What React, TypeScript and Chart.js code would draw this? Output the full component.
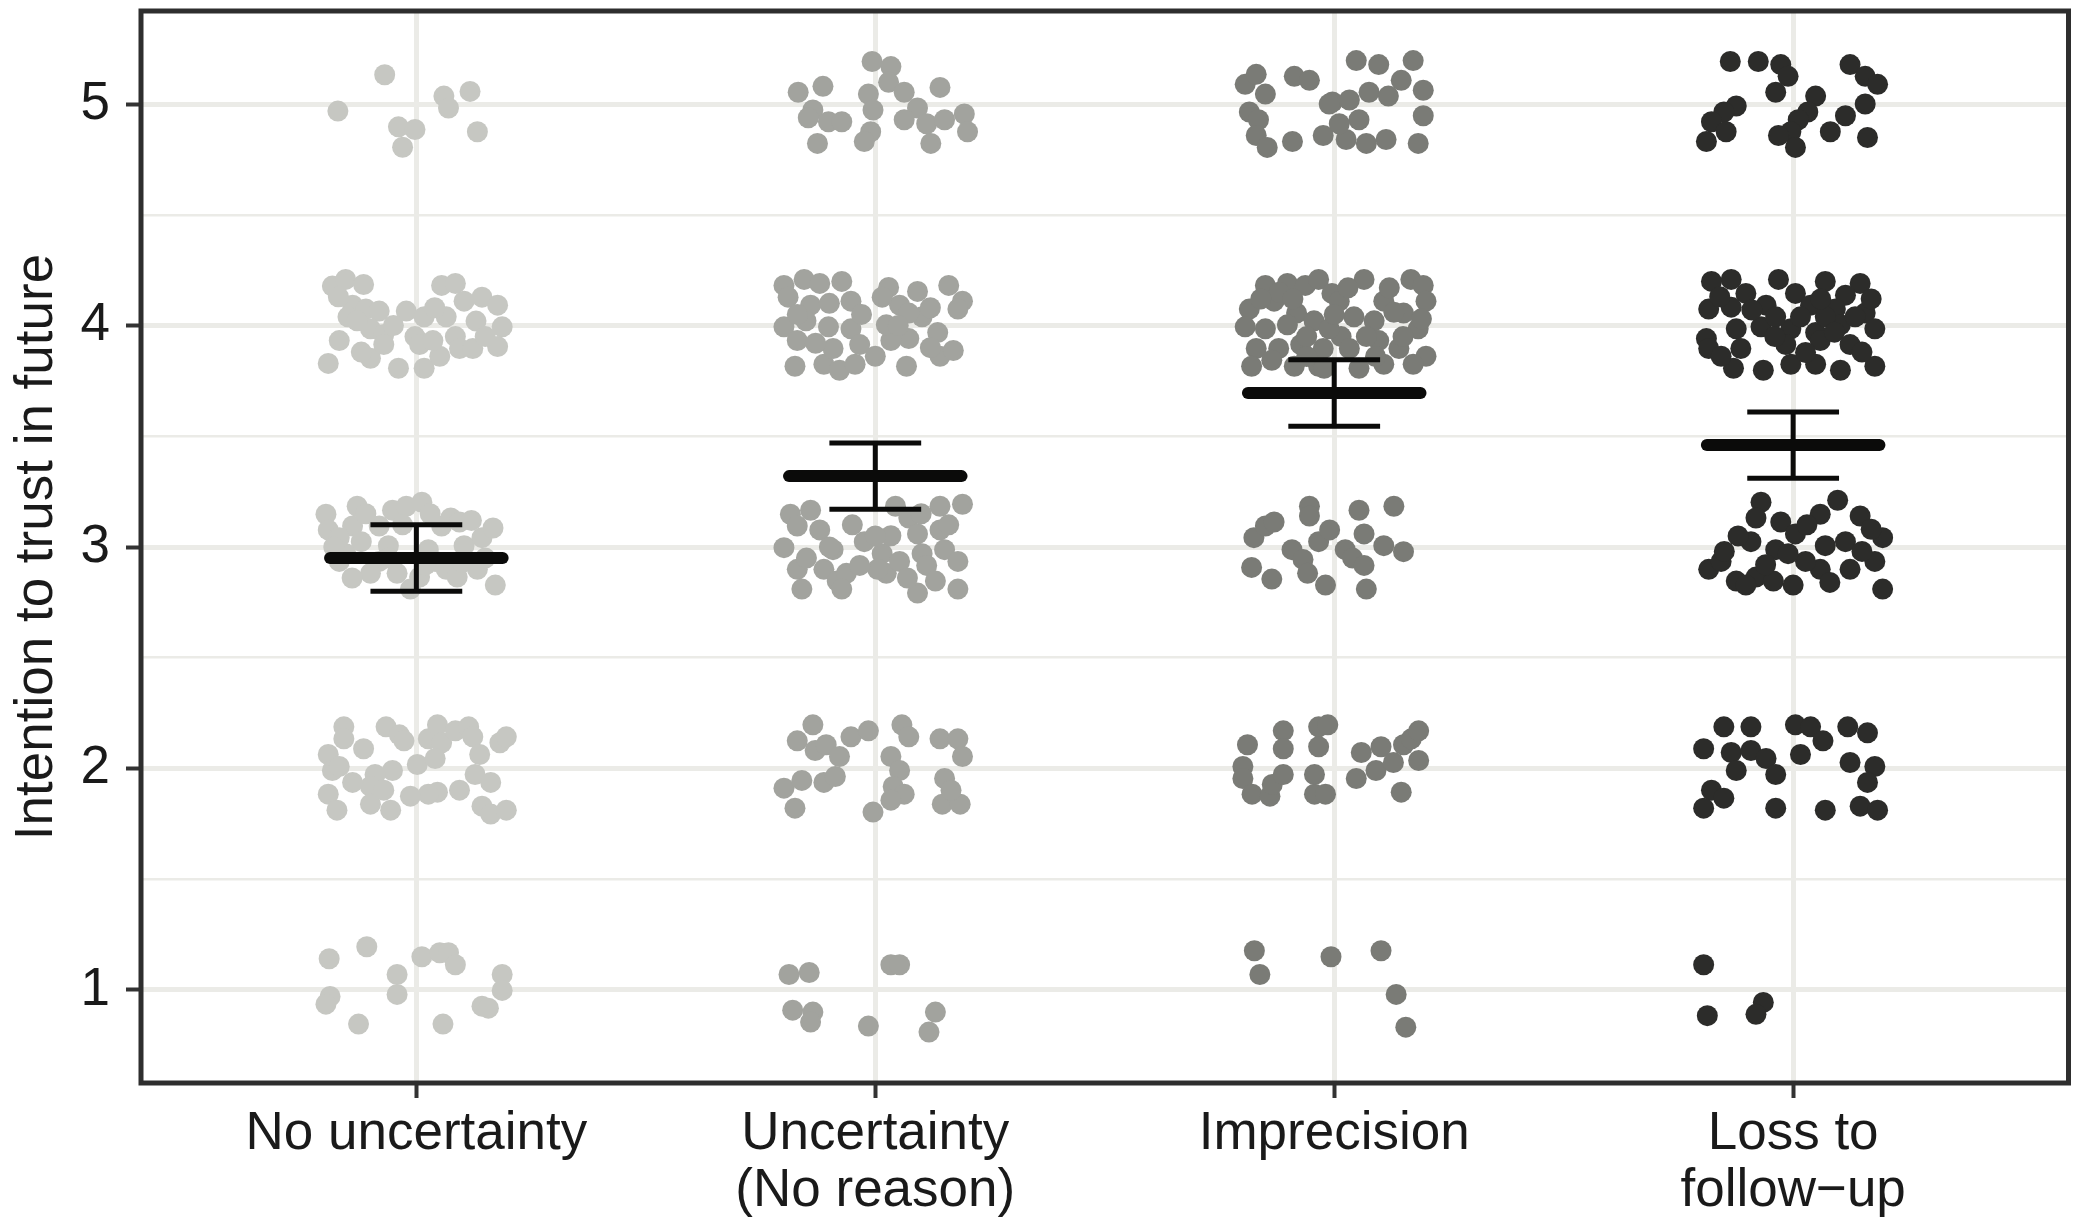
import React, { useEffect, useRef } from "react";
import { Chart, registerables } from "chart.js";

Chart.register(...registerables);

// ---- Data -------------------------------------------------------------
const categories: string[][] = [
  ["No uncertainty"],
  ["Uncertainty", "(No reason)"],
  ["Imprecision"],
  ["Loss to", "follow\u2212up"],
];

const yTickValues = [1, 1.5, 2, 2.5, 3, 3.5, 4, 4.5, 5];

const means = [2.95, 3.32, 3.695, 3.46];
const lowerCI = [2.8, 3.17, 3.545, 3.31];
const upperCI = [3.1, 3.47, 3.845, 3.61];

const pointColors = ["#c6c7c2", "#a2a39e", "#7a7b76", "#2c2c2a"];

// jittered responses: [horizontal jitter offset, jittered response]
const noUncertaintyPts: [number, number][] = [
  [-0.171, 4.968], [-0.069, 5.132], [-0.039, 4.897], [-0.003, 4.885], [-0.03, 4.805], [0.06, 5.036], [0.07, 4.982], [0.117, 5.057], [0.133, 4.875],
  [-0.183, 4.178], [-0.154, 4.208], [-0.115, 4.185], [-0.192, 3.829], [-0.168, 3.932], [-0.139, 4.092], [-0.149, 4.039], [-0.11, 4.074], [-0.081, 4.065], [-0.1, 3.985], [-0.071, 3.959], [-0.1, 3.852], [-0.039, 3.807], [-0.022, 4.065], [0.017, 4.039], [-0.003, 3.95], [0.017, 3.807], [0.051, 3.861], [0.055, 4.181], [0.085, 4.19], [0.065, 4.039], [0.085, 3.95], [0.094, 3.896], [0.123, 3.896], [0.143, 4.128], [0.177, 4.092], [0.187, 3.994], [0.177, 3.905], [0.104, 4.11], [0.007, 3.914], [0.036, 3.932], [-0.129, 4.021], [-0.071, 3.914],
  [-0.17, 4.13], [-0.05, 4.0], [0.04, 4.08], [0.13, 4.02], [0.15, 3.95], [-0.12, 3.88],
  [-0.197, 3.148], [-0.192, 3.077], [-0.168, 2.935], [-0.129, 3.184], [-0.139, 3.095], [-0.12, 3.024], [-0.154, 2.97], [-0.081, 2.935], [-0.052, 3.166], [-0.022, 3.184], [0.012, 3.202], [-0.061, 3.006], [-0.042, 2.881], [-0.013, 2.81], [0.026, 2.988], [0.055, 3.095], [0.075, 3.131], [0.094, 3.113], [0.065, 2.899], [0.104, 3.006], [0.143, 3.042], [0.167, 3.086], [0.172, 2.828], [0.133, 2.899], [-0.1, 2.881], [0.007, 2.864], [0.041, 2.935], [0.089, 2.864], [-0.168, 3.042], [-0.081, 3.095],
  [-0.18, 3.0], [-0.11, 3.15], [-0.03, 3.1], [0.03, 3.15], [0.12, 3.12], [-0.06, 2.95], [0.02, 2.92], [0.1, 2.93], [-0.14, 2.86], [0.15, 2.95],
  [-0.158, 2.188], [-0.158, 2.134], [-0.192, 2.063], [-0.183, 1.991], [-0.168, 2.009], [-0.115, 2.089], [-0.066, 2.188], [-0.037, 2.152], [-0.027, 2.125], [-0.052, 1.991], [-0.09, 1.973], [-0.1, 1.919], [-0.192, 1.884], [-0.173, 1.812], [-0.1, 1.839], [-0.056, 1.812], [-0.071, 1.902], [0.002, 2.018], [0.026, 2.134], [0.046, 2.197], [0.055, 2.116], [0.085, 2.17], [0.114, 2.188], [0.123, 2.143], [0.138, 2.063], [0.128, 1.973], [0.162, 1.937], [0.182, 2.116], [0.196, 2.143], [0.094, 1.902], [0.046, 1.893], [0.026, 1.884], [-0.013, 1.875], [0.143, 1.83], [0.162, 1.794], [0.196, 1.812], [0.041, 2.045], [-0.139, 1.937],
  [-0.19, 1.141], [-0.108, 1.195], [-0.042, 1.07], [-0.042, 0.98], [0.012, 1.15], [0.051, 1.168], [0.07, 1.168], [0.085, 1.114], [0.187, 1.07], [0.187, 0.998], [-0.188, 0.971], [-0.197, 0.936], [-0.126, 0.846], [0.058, 0.846], [0.143, 0.927], [0.157, 0.918],
];

const uncertaintyNoReasonPts: [number, number][] = [
  [-0.168, 5.053], [-0.114, 5.08], [-0.136, 4.973], [-0.146, 4.938], [-0.102, 4.92], [-0.073, 4.92], [-0.126, 4.822], [-0.007, 5.192], [0.034, 5.169], [0.029, 5.098], [-0.015, 5.045], [-0.005, 4.973], [-0.01, 4.875], [-0.024, 4.831], [0.063, 5.053], [0.092, 4.982], [0.063, 4.929], [0.112, 4.911], [0.121, 4.822], [0.141, 5.075], [0.151, 4.929], [0.194, 4.955], [0.201, 4.875],
  [-0.199, 4.181], [-0.155, 4.208], [-0.121, 4.19], [-0.073, 4.199], [-0.053, 4.11], [-0.19, 4.128], [-0.141, 4.092], [-0.199, 3.994], [-0.17, 3.932], [-0.151, 4.021], [-0.102, 3.994], [-0.053, 3.985], [-0.175, 3.816], [-0.112, 3.825], [-0.078, 3.798], [-0.044, 3.825], [-0.092, 3.896], [-0.034, 3.914], [0.0, 3.861], [0.029, 4.172], [0.053, 4.092], [0.092, 4.154], [0.102, 4.039], [0.073, 3.941], [0.034, 3.932], [0.068, 3.816], [0.136, 3.968], [0.141, 3.861], [0.17, 3.887], [0.16, 4.181], [0.19, 4.11], [0.18, 4.074], [0.015, 4.128], [0.073, 4.056], [0.024, 4.003],
  [-0.17, 4.05], [-0.1, 4.1], [-0.03, 4.05], [0.05, 4.0], [0.12, 4.08], [0.12, 3.9], [-0.13, 3.92],
  [-0.185, 3.148], [-0.141, 3.166], [-0.199, 2.997], [-0.17, 3.095], [-0.17, 2.899], [-0.16, 2.81], [-0.121, 3.077], [-0.092, 2.988], [-0.112, 2.899], [-0.083, 2.846], [-0.063, 2.881], [-0.073, 2.81], [-0.024, 3.024], [0.015, 2.97], [0.024, 2.881], [0.034, 3.051], [0.044, 3.184], [0.073, 3.131], [0.092, 3.059], [0.102, 2.97], [0.112, 2.917], [0.092, 2.792], [0.131, 2.846], [0.141, 3.077], [0.151, 2.988], [0.141, 3.184], [0.19, 3.193], [0.18, 2.935], [0.18, 2.81], [0.053, 2.935], [0.005, 2.899], [-0.034, 2.917],
  [-0.15, 2.95], [-0.05, 3.1], [0.0, 3.05], [0.1, 3.15], [0.16, 3.1], [-0.1, 3.0], [0.07, 2.86],
  [-0.136, 2.197], [-0.17, 2.125], [-0.131, 2.081], [-0.107, 2.107], [-0.078, 2.054], [-0.053, 2.143], [-0.015, 2.17], [-0.199, 1.911], [-0.16, 1.946], [-0.112, 1.937], [-0.087, 1.964], [-0.175, 1.821], [-0.005, 1.803], [0.058, 2.197], [0.073, 2.143], [0.034, 2.054], [0.053, 1.991], [0.039, 1.919], [0.063, 1.884], [0.034, 1.857], [0.141, 2.134], [0.18, 2.134], [0.19, 2.054], [0.151, 1.955], [0.146, 1.839], [0.185, 1.839], [0.165, 1.902],
  [-0.188, 1.07], [-0.144, 1.079], [0.034, 1.114], [0.053, 1.114], [-0.18, 0.909], [-0.136, 0.9], [-0.141, 0.855], [-0.015, 0.837], [0.131, 0.9], [0.117, 0.81],
];

const imprecisionPts: [number, number][] = [
  [-0.194, 5.089], [-0.17, 5.134], [-0.15, 5.045], [-0.185, 4.964], [-0.165, 4.929], [-0.17, 4.858], [-0.146, 4.804], [-0.091, 4.831], [-0.087, 5.125], [-0.054, 5.107], [-0.024, 4.858], [-0.004, 5.009], [0.048, 5.196], [0.097, 5.178], [0.172, 5.196], [0.146, 5.107], [0.194, 5.062], [-0.011, 5.0], [0.033, 5.018], [0.076, 5.053], [0.118, 5.036], [0.194, 4.947], [0.026, 4.84], [0.07, 4.822], [0.113, 4.84], [0.183, 4.822], [0.054, 4.929], [0.011, 4.911],
  [-0.15, 4.181], [-0.102, 4.19], [-0.063, 4.181], [-0.034, 4.208], [-0.005, 4.145], [-0.185, 4.074], [-0.131, 4.11], [-0.082, 4.056], [-0.194, 3.994], [-0.15, 3.985], [-0.102, 4.003], [-0.044, 4.021], [-0.17, 3.896], [-0.121, 3.896], [-0.073, 3.914], [-0.024, 3.896], [-0.18, 3.816], [-0.136, 3.843], [-0.087, 3.816], [-0.034, 3.816], [0.015, 3.95], [0.065, 4.208], [0.167, 4.208], [0.194, 4.181], [0.2, 4.11], [0.011, 4.11], [0.043, 4.039], [0.108, 4.11], [0.151, 4.056], [-0.011, 3.985], [0.087, 4.021], [0.183, 3.985], [0.033, 3.896], [0.097, 3.932], [0.141, 3.896], [0.2, 3.861], [-0.022, 3.807], [0.054, 3.807], [0.108, 3.825], [0.172, 3.825], [0.0, 4.05], [0.12, 4.17], [0.07, 3.95], [-0.06, 3.95], [0.15, 3.95], [-0.12, 4.15],
  [-0.16, 4.12], [-0.09, 4.12], [0.03, 4.17], [0.13, 4.06], [-0.06, 3.86], [0.09, 3.86], [0.19, 4.03],
  [-0.175, 3.042], [-0.15, 3.095], [-0.131, 3.113], [-0.18, 2.908], [-0.136, 2.855], [-0.092, 2.988], [-0.068, 2.944], [-0.054, 3.184], [-0.054, 3.14], [-0.034, 3.024], [-0.01, 3.077], [-0.058, 2.881], [-0.019, 2.828], [0.024, 2.988], [0.054, 3.166], [0.13, 3.184], [0.04, 2.95], [0.065, 3.059], [0.108, 3.006], [0.151, 2.979], [0.065, 2.917], [0.07, 2.81],
  [-0.189, 2.107], [-0.199, 2.009], [-0.199, 1.955], [-0.179, 1.884], [-0.14, 1.875], [-0.135, 1.928], [-0.111, 2.17], [-0.111, 2.089], [-0.111, 1.973], [-0.043, 1.973], [-0.043, 1.884], [-0.034, 2.188], [-0.014, 2.197], [-0.034, 2.098], [-0.019, 1.884], [0.059, 2.072], [0.048, 1.955], [0.091, 1.991], [0.102, 2.098], [0.129, 2.027], [0.151, 2.107], [0.168, 2.134], [0.184, 2.17], [0.184, 2.036], [0.146, 1.893],
  [-0.174, 1.177], [-0.162, 1.07], [-0.007, 1.15], [0.102, 1.177], [0.135, 0.98], [0.156, 0.832],
];

const lossToFollowUpPts: [number, number][] = [
  [-0.137, 5.192], [-0.076, 5.192], [-0.027, 5.178], [-0.011, 5.125], [-0.038, 5.053], [0.049, 5.036], [0.032, 4.964], [0.011, 4.929], [-0.005, 4.875], [0.005, 4.804], [-0.032, 4.858], [0.124, 5.178], [0.157, 5.125], [0.184, 5.089], [0.157, 5.0], [0.114, 4.947], [0.081, 4.875], [0.162, 4.849], [-0.124, 4.991], [-0.151, 4.964], [-0.178, 4.92], [-0.189, 4.831], [-0.146, 4.875],
  [-0.178, 4.199], [-0.135, 4.208], [-0.032, 4.208], [0.07, 4.199], [0.146, 4.19], [-0.103, 4.145], [0.005, 4.145], [0.114, 4.137], [-0.184, 4.074], [-0.135, 4.083], [-0.059, 4.092], [0.038, 4.092], [0.092, 4.074], [0.157, 4.056], [-0.189, 3.941], [-0.124, 3.985], [-0.07, 3.994], [-0.005, 3.985], [0.049, 3.968], [0.103, 4.003], [0.178, 3.985], [-0.184, 3.896], [-0.114, 3.896], [-0.016, 3.914], [0.059, 3.932], [0.124, 3.914], [-0.13, 3.807], [-0.065, 3.798], [-0.005, 3.825], [0.049, 3.825], [0.103, 3.798], [0.178, 3.816], [-0.038, 4.039], [0.016, 4.039], [0.07, 4.039], [0.135, 4.039], [-0.157, 3.861], [0.027, 3.878],
  [-0.16, 4.13], [-0.09, 4.07], [0.06, 4.12], [0.17, 4.12], [-0.04, 3.95], [0.15, 3.88], [0.09, 3.97],
  [-0.07, 3.202], [0.097, 3.211], [-0.081, 3.131], [-0.027, 3.113], [0.059, 3.148], [0.146, 3.14], [0.195, 3.042], [-0.092, 3.024], [0.005, 3.059], [-0.038, 2.988], [0.07, 3.006], [0.114, 3.024], [-0.184, 2.899], [-0.157, 2.935], [-0.124, 2.846], [-0.081, 2.864], [-0.043, 2.846], [0.0, 2.828], [0.059, 2.899], [0.124, 2.899], [0.178, 2.935], [0.195, 2.81], [0.027, 2.935], [-0.011, 2.97], [-0.103, 2.828],
  [-0.12, 3.05], [-0.15, 2.98], [0.03, 3.1], [0.15, 2.98], [0.08, 2.84], [-0.06, 2.92], [0.17, 3.08],
  [-0.151, 2.188], [-0.092, 2.188], [0.005, 2.197], [0.038, 2.188], [0.065, 2.125], [0.119, 2.188], [0.162, 2.161], [-0.195, 2.089], [-0.135, 2.072], [-0.092, 2.081], [-0.059, 2.045], [-0.038, 1.973], [0.016, 2.063], [0.124, 2.027], [0.178, 2.009], [0.162, 1.937], [-0.124, 1.991], [-0.178, 1.902], [-0.151, 1.866], [-0.195, 1.821], [-0.038, 1.821], [0.07, 1.812], [0.146, 1.83], [0.184, 1.812],
  [-0.195, 1.114], [-0.065, 0.944], [-0.081, 0.89], [-0.187, 0.884],
];

const groupPoints = [noUncertaintyPts, uncertaintyNoReasonPts, imprecisionPts, lossToFollowUpPts];

// ---- Component --------------------------------------------------------
const FONT = "'Liberation Sans', Arial, Helvetica, sans-serif";
const TEXT = "#1a1a1a";
const GRID = "#ebebe7";

const panelBorder = {
  id: "panelBorder",
  afterDraw(chart: any) {
    const { ctx, chartArea } = chart;
    ctx.save();
    ctx.strokeStyle = "#2e2e2e";
    ctx.lineWidth = 5;
    ctx.strokeRect(chartArea.left, chartArea.top, chartArea.right - chartArea.left, chartArea.bottom - chartArea.top);
    ctx.restore();
  },
};

export default function App() {
  const ref = useRef<HTMLCanvasElement | null>(null);

  useEffect(() => {
    if (!ref.current) return;
    const datasets: any[] = [];
    const lineBase = {
      showLine: true,
      pointRadius: 0,
      borderColor: "#0b0b0a",
      order: 0,
    };
    categories.forEach((_, i) => {
      const c = i + 1;
      datasets.push({ ...lineBase, borderWidth: 12, borderCapStyle: "round", data: [{ x: c - 0.188, y: means[i] }, { x: c + 0.188, y: means[i] }] });
      datasets.push({ ...lineBase, borderWidth: 5, borderCapStyle: "butt", data: [{ x: c, y: lowerCI[i] }, { x: c, y: upperCI[i] }] });
      datasets.push({ ...lineBase, borderWidth: 5, borderCapStyle: "butt", data: [{ x: c - 0.1, y: upperCI[i] }, { x: c + 0.1, y: upperCI[i] }] });
      datasets.push({ ...lineBase, borderWidth: 5, borderCapStyle: "butt", data: [{ x: c - 0.1, y: lowerCI[i] }, { x: c + 0.1, y: lowerCI[i] }] });
    });
    groupPoints.forEach((pts, i) => {
      datasets.push({
        data: pts.map(([dx, y]) => ({ x: i + 1 + dx, y })),
        backgroundColor: pointColors[i],
        borderWidth: 0,
        pointRadius: 10.5,
        pointHoverRadius: 10.5,
        order: 1,
      });
    });

    const chart = new Chart(ref.current, {
      type: "scatter",
      data: { datasets },
      options: {
        animation: false,
        responsive: false,
        events: [],
        layout: { padding: { top: 11, right: 9, left: 0, bottom: 0 } },
        plugins: { legend: { display: false }, tooltip: { enabled: false } },
        scales: {
          x: {
            type: "linear",
            min: 0.4,
            max: 4.6,
            afterBuildTicks: (s: any) => {
              s.ticks = categories.map((_, i) => ({ value: i + 1 }));
            },
            afterFit: (s: any) => {
              s.height = 140;
              s.paddingLeft = 0;
              s.paddingRight = 0;
            },
            border: { display: false },
            grid: { color: GRID, lineWidth: 5, tickColor: "#333333", tickLength: 15, tickWidth: 4 },
            ticks: {
              autoSkip: false,
              maxRotation: 0,
              padding: 8,
              color: TEXT,
              font: { family: FONT, size: 53, lineHeight: 1.07 },
              callback: (_v: any, idx: number) => categories[idx],
            },
          },
          y: {
            type: "linear",
            min: 0.58,
            max: 5.42,
            afterBuildTicks: (s: any) => {
              s.ticks = yTickValues.map((v) => ({ value: v }));
            },
            afterFit: (s: any) => {
              s.width = 141;
              s.paddingTop = 0;
              s.paddingBottom = 0;
            },
            border: { display: false },
            grid: {
              color: GRID,
              lineWidth: (ctx: any) => (ctx.tick && Number.isInteger(ctx.tick.value) ? 5 : 2.5),
              tickColor: (ctx: any) => (ctx.tick && Number.isInteger(ctx.tick.value) ? "#333333" : "rgba(0,0,0,0)"),
              tickLength: 15,
              tickWidth: 4,
            },
            ticks: {
              autoSkip: false,
              padding: 16,
              color: TEXT,
              font: { family: FONT, size: 53 },
              callback: (v: any) => (Number.isInteger(v) ? String(v) : ""),
            },
            title: {
              display: true,
              text: "Intention to trust in future",
              color: TEXT,
              padding: 0,
              font: { family: FONT, size: 53, lineHeight: 1.4 },
            },
          },
        },
      },
      plugins: [panelBorder],
    } as any);
    return () => chart.destroy();
  }, []);

  return (
    <div style={{ position: "fixed", left: 0, top: 0, width: 2079, height: 1223, background: "#ffffff" }}>
      <canvas ref={ref} width={2079} height={1223} style={{ display: "block", width: 2079, height: 1223 }} />
    </div>
  );
}
